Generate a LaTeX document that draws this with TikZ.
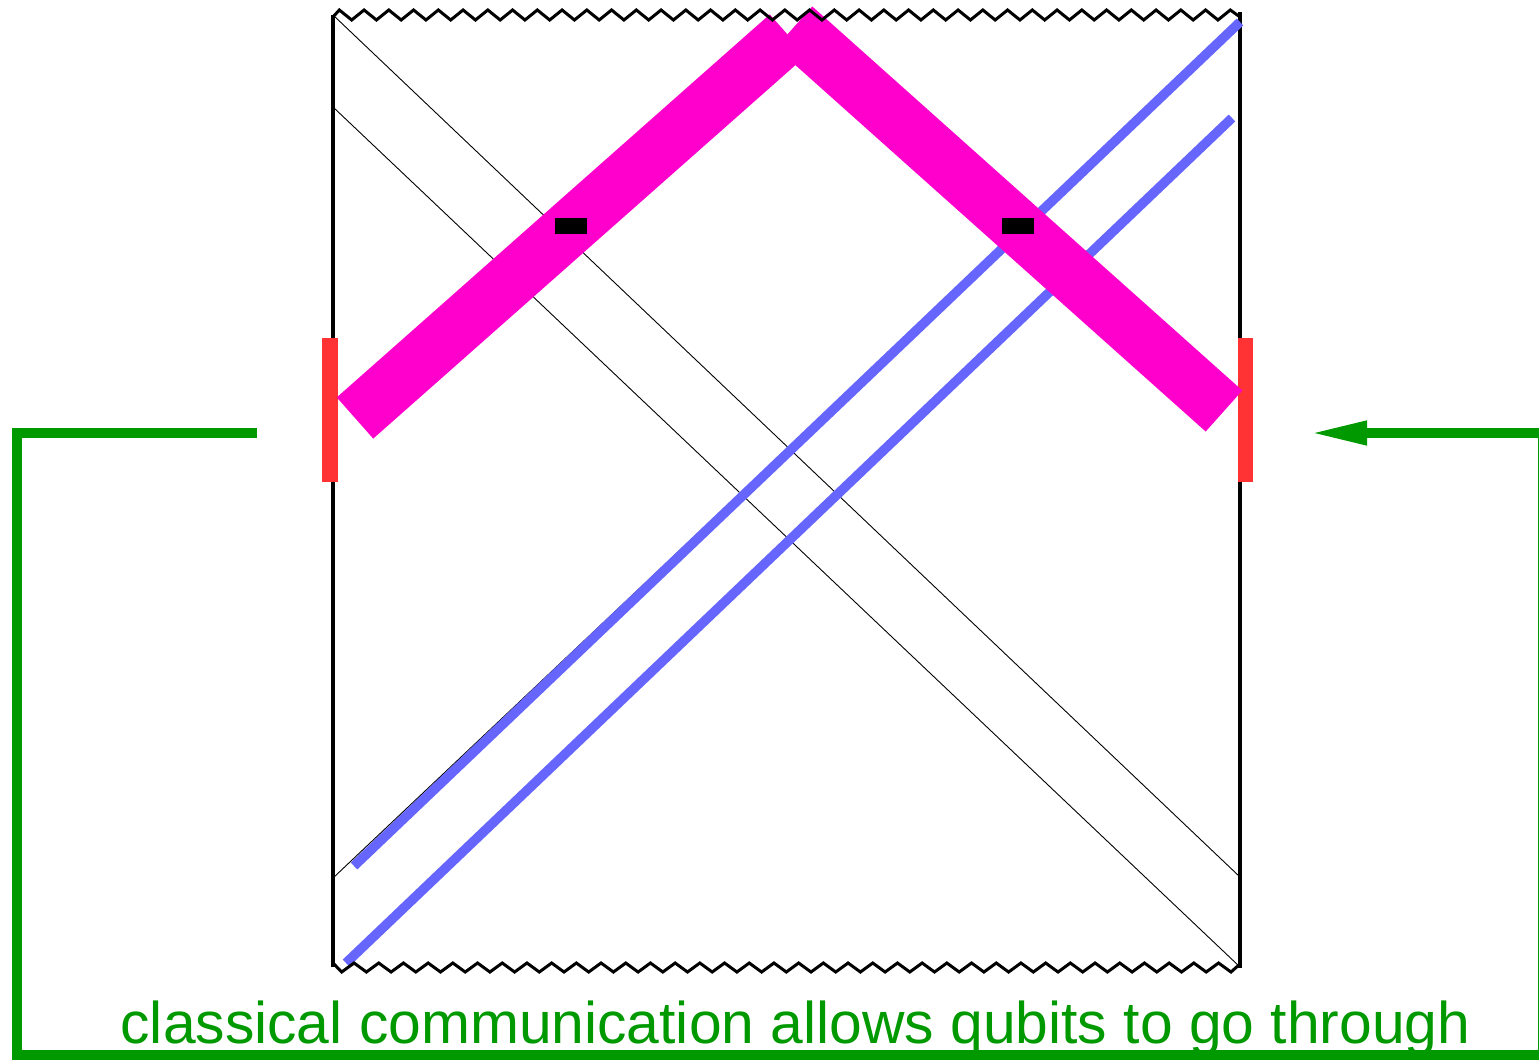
\documentclass[tikz,border=0pt]{standalone}
\usepackage{fontspec}
\setmainfont{Liberation Sans}
\usetikzlibrary{arrows.meta}
\definecolor{pinkband}{RGB}{255,0,204}
\definecolor{qubitblue}{RGB}{102,102,255}
\definecolor{barred}{RGB}{255,51,51}
\definecolor{classgreen}{RGB}{0,153,0}
\tikzset{
  border/.style={line width=3.2pt, black},
  thinline/.style={line width=0.9pt, black},
  zig/.style={line width=3pt, black, line join=miter},
  qubit/.style={line width=9.5pt, qubitblue},
  band/.style={line width=55pt, pinkband},
  redbar/.style={fill=barred, draw=none},
  blk/.style={fill=black, draw=none},
  classical/.style={line width=10pt, classgreen, line join=miter},
}
\begin{document}
\begin{tikzpicture}[x=1pt,y=-1pt]
\useasboundingbox (0,0) rectangle (1539,1060);
% borders
\draw[border] (333,15) -- (333,967);
\draw[border] (1240,12) -- (1240,968);
% thin diagonals
\draw[thinline] (333,15) -- (1240,877);
\draw[thinline] (333,107) -- (1240,967);
\draw[thinline] (333,878) -- (1240,21);
% qubit lines
\draw[qubit] (354,866) -- (1240,22);
\draw[qubit] (346,963) -- (1232,118);
% red bars
\path[redbar] (322,338) rectangle (338,482);
\path[redbar] (1238,338) rectangle (1253,482);
% pink band
\draw[band] (355,418) -- (788,35);
\draw[band] (1224,411) -- (794,27);
% black marks
\path[blk] (555,218) rectangle (587,234);
\path[blk] (1002,218) rectangle (1034,234);
% top zigzag
\draw[zig] (333,17) \foreach \k in {0,...,35} { -- ({339.3+24.75*\k},10) -- ({351.7+24.75*\k},20) } -- (1230.3,10) -- (1240,17);
% bottom zigzag
\draw[zig] (333,963) \foreach \k in {0,...,35} { -- ({341.7+24.7*\k},972) -- ({354.05+24.7*\k},963) } -- (1231,972) -- (1240,964);
% classical communication loop
\coordinate (gstart) at (257,433);
\coordinate (gc1) at (17,433);
\coordinate (gc2) at (17,1055);
\coordinate (gc3) at (1543,1055);
\coordinate (gc4) at (1543,433);
\coordinate (gend) at (1309,433);
\draw[classical, -{Triangle[length=58pt,width=22pt]}] (gstart) -- (gc1) -- (gc2) -- (gc3) -- (gc4) -- (gend);
\node[text=classgreen, anchor=base, inner sep=0pt, font=\fontsize{58.8}{60}\selectfont] (caption) at (795.5,1043) {classical communication allows qubits to go through};
\end{tikzpicture}
\end{document}
